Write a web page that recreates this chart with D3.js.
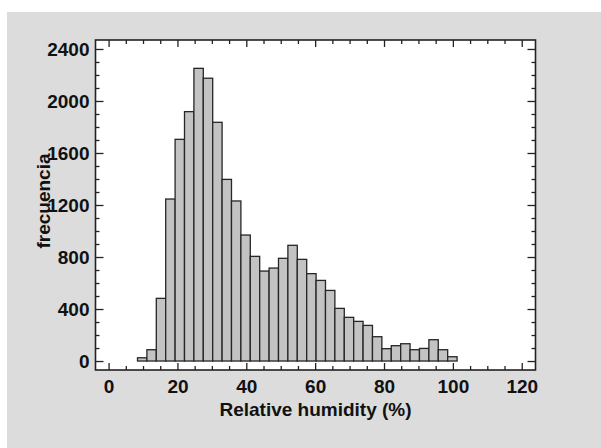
<!DOCTYPE html>
<html>
<head>
<meta charset="utf-8">
<script src="https://cdn.jsdelivr.net/npm/d3@7"></script>
<style>
body { margin: 0; background: #ffffff; }
svg { display: block; }
text { font-family: "Liberation Sans", Arial, sans-serif; font-weight: bold; }
</style>
</head>
<body>
<svg></svg>
<script>
// histogram counts, 34 classes
var binStart = 8.4;
var binWidth = 2.73;
var counts = [25, 87, 482, 1246, 1705, 1918, 2251, 2175, 1836, 1397, 1231, 969, 805, 692,
	715, 790, 890, 782, 672, 620, 543, 405, 336, 305, 274, 187, 95, 118, 133, 87, 97, 164, 87, 33];

var xTicks = [0, 20, 40, 60, 80, 100, 120];
var yTicks = [0, 400, 800, 1200, 1600, 2000, 2400];
var xTitle = "Relative humidity (%)";
var yTitle = "frecuencia";

var svg_width = 601, svg_height = 448;
var frame = { left: 95.5, right: 535.5, top: 40, bottom: 370 };

var x = d3.scaleLinear().domain([-3.8, 124]).range([frame.left, frame.right]);
var y = d3.scaleLinear().domain([-69, 2469]).range([frame.bottom, frame.top]);

var svg = d3.select("svg")
	.attr("width", svg_width)
	.attr("height", svg_height);

// grey panel
svg.append("rect")
	.attr("x", 7).attr("y", 12)
	.attr("width", svg_width - 7).attr("height", svg_height - 12)
	.attr("fill", "#dcdcdc");

svg.append("rect")
	.attr("x", frame.left).attr("y", frame.top)
	.attr("width", frame.right - frame.left).attr("height", frame.bottom - frame.top)
	.attr("fill", "#ffffff");

// bars
svg.append("g")
	.selectAll("rect")
	.data(counts)
	.enter().append("rect")
	.attr("x", function (d, i) { return x(binStart + i * binWidth); })
	.attr("width", function (d, i) { return x(binStart + (i + 1) * binWidth) - x(binStart + i * binWidth); })
	.attr("y", function (d) { return y(d); })
	.attr("height", function (d) { return y(0) - y(d); })
	.attr("fill", "#c3c3c3")
	.attr("stroke", "#262626")
	.attr("stroke-width", 1.3);

var xMinor = d3.range(0, 121, 5).filter(function (d) { return d % 20 != 0; });
var yMinor = d3.range(0, 2401, 100).filter(function (d) { return d % 400 != 0; });
var fmt = d3.format("d");

function styleAxis(g) {
	g.select(".domain").remove();
	g.selectAll("line").attr("stroke", "#222").attr("stroke-width", 1.3);
	g.selectAll("text").attr("fill", "#111").style("font-size", "19px");
}

// bottom
svg.append("g")
	.attr("transform", "translate(0," + frame.bottom + ")")
	.call(d3.axisBottom(x).tickValues(xTicks).tickFormat(fmt).tickSize(-7).tickPadding(10))
	.call(styleAxis);
svg.append("g")
	.attr("transform", "translate(0," + frame.bottom + ")")
	.call(d3.axisBottom(x).tickValues(xMinor).tickSize(-4).tickFormat(""))
	.call(styleAxis);
// top
svg.append("g")
	.attr("transform", "translate(0," + frame.top + ")")
	.call(d3.axisTop(x).tickValues(xTicks).tickSize(-7).tickFormat(""))
	.call(styleAxis);
svg.append("g")
	.attr("transform", "translate(0," + frame.top + ")")
	.call(d3.axisTop(x).tickValues(xMinor).tickSize(-4).tickFormat(""))
	.call(styleAxis);
// left
svg.append("g")
	.attr("transform", "translate(" + frame.left + ",0)")
	.call(d3.axisLeft(y).tickValues(yTicks).tickFormat(fmt).tickSize(-8).tickPadding(6))
	.call(styleAxis);
svg.append("g")
	.attr("transform", "translate(" + frame.left + ",0)")
	.call(d3.axisLeft(y).tickValues(yMinor).tickSize(-4).tickFormat(""))
	.call(styleAxis);
// right
svg.append("g")
	.attr("transform", "translate(" + frame.right + ",0)")
	.call(d3.axisRight(y).tickValues(yTicks).tickSize(-8).tickFormat(""))
	.call(styleAxis);
svg.append("g")
	.attr("transform", "translate(" + frame.right + ",0)")
	.call(d3.axisRight(y).tickValues(yMinor).tickSize(-4).tickFormat(""))
	.call(styleAxis);

svg.append("rect")
	.attr("x", frame.left).attr("y", frame.top)
	.attr("width", frame.right - frame.left).attr("height", frame.bottom - frame.top)
	.attr("fill", "none")
	.attr("stroke", "#222")
	.attr("stroke-width", 1.6);

svg.append("text")
	.attr("x", (frame.left + frame.right) / 2)
	.attr("y", 416)
	.attr("text-anchor", "middle")
	.attr("fill", "#111")
	.style("font-size", "19px")
	.text(xTitle);

svg.append("text")
	.attr("transform", "translate(50," + ((frame.top + frame.bottom) / 2 - 4) + ") rotate(-90)")
	.attr("text-anchor", "middle")
	.attr("fill", "#111")
	.style("font-size", "19px")
	.text(yTitle);
</script>
</body>
</html>
